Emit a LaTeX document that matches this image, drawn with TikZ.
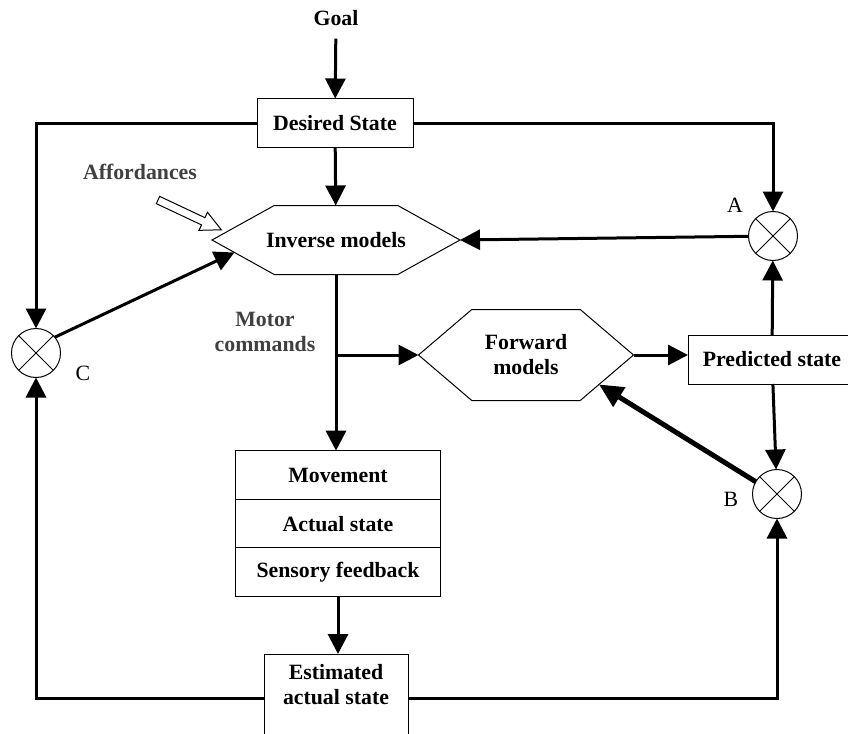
\documentclass[tikz,border=0pt]{standalone}
\usepackage{fontspec}
\setmainfont{Liberation Serif}
\usetikzlibrary{arrows.meta}
\usetikzlibrary{positioning}
\usetikzlibrary{calc}
\usetikzlibrary{shapes.symbols}

\begin{document}
\begin{tikzpicture}[x=0.5pt,y=-0.5pt,
  font=\fontsize{10.9}{12.5}\selectfont\bfseries,
  box/.style={draw,line width=0.5pt,inner sep=0pt,outer sep=0pt,align=center},
  hexa/.style={draw,line width=0.5pt,signal,signal to=west and east,inner sep=0pt,outer sep=0pt,align=center},
  sumnode/.style={circle,draw,line width=0.5pt,minimum size=24.5pt,inner sep=0pt,outer sep=0pt,
    path picture={\draw[line width=0.5pt] (path picture bounding box.north west) -- (path picture bounding box.south east)
      (path picture bounding box.north east) -- (path picture bounding box.south west);}},
  flow/.style={line width=1.5pt,-{Triangle[length=10pt,width=10pt]}},
  lbl/.style={font=\fontsize{10.9}{12.5}\selectfont},
  note/.style={text=black!75}]

\clip (0,0) rectangle (848,734);

% blocks
\node (goal) at (336,18) {Goal};
\node[box,minimum width=78pt,minimum height=24.5pt] (ds) at (335,123) {Desired State};
\node[hexa,minimum width=124pt,minimum height=34.5pt,inner xsep=-4.5pt,signal pointer angle=58] (inv) at (336,240) {Inverse models};
\node[hexa,minimum width=107.5pt,minimum height=45.5pt,signal pointer angle=81] (fwd) at (526,355) {Forward\\models};
\node[box,minimum width=84pt,minimum height=24.5pt] (pred) at (772,359.5) {Predicted state};
\node[box,minimum width=102.5pt,minimum height=24.3pt,anchor=north] (mov) at (338,450.7) {Movement};
\node[box,minimum width=102.5pt,minimum height=24.3pt,below=0pt of mov] (act) {Actual state};
\node[box,minimum width=102.5pt,minimum height=24.3pt,below=0pt of act] (sens) {Sensory feedback};
\node[box,minimum width=72pt,inner ysep=5pt,text depth=40pt,anchor=north] (est) at (336,654) {Estimated\\actual state};

% comparators
\node[sumnode] (A) at (773,236) {};
\node[sumnode] (B) at (777,494) {};
\node[sumnode] (C) at (36,353) {};
\node[lbl] (la) at (735,205) {A};
\node[lbl] (lb) at (731,499) {B};
\node[lbl] (lc) at (83,373) {C};

\node[note] (aff) at (140,172) {Affordances};
\node[note,align=center] (mot) at (265,332) {Motor\\commands};

\coordinate (mc) at (inv.south |- fwd.west);

% connections
\draw[flow,shorten <=3pt] (goal) -- (ds);
\draw[flow] (ds) -- (inv);
\draw[flow] (ds.west) -| (C);
\draw[flow] (ds.east) -| (A);
\draw[flow] (A) -- (inv.east);
\draw[flow] (C.40) -- (inv.187);
\draw[flow] (inv.south) -- (inv.south |- mov.north);
\draw[flow] (mc) -- (fwd.west);
\draw[flow] (fwd.east) -- (fwd.east -| pred.west);
\draw[flow] (pred) -- (A);
\draw[flow] (pred) -- (B);
\draw[line width=2.5pt,-{Triangle[length=12pt,width=11pt]}] (B.150) -- (fwd.-22);
\draw[flow] (sens.south) -- (sens.south |- est.north);
\draw[flow] ($(est.north west)+(0,44)$) -| (C);
\draw[flow] ($(est.north east)+(0,44)$) -| (B);

% affordance arrow
\draw[line width=0.5pt,fill=white,shift={(158,200)},rotate=-25.2] (0,-4) -- (50,-4) -- (50,-10) -- (70,0) -- (50,10) -- (50,4) -- (0,4) -- cycle;

\end{tikzpicture}
\end{document}
